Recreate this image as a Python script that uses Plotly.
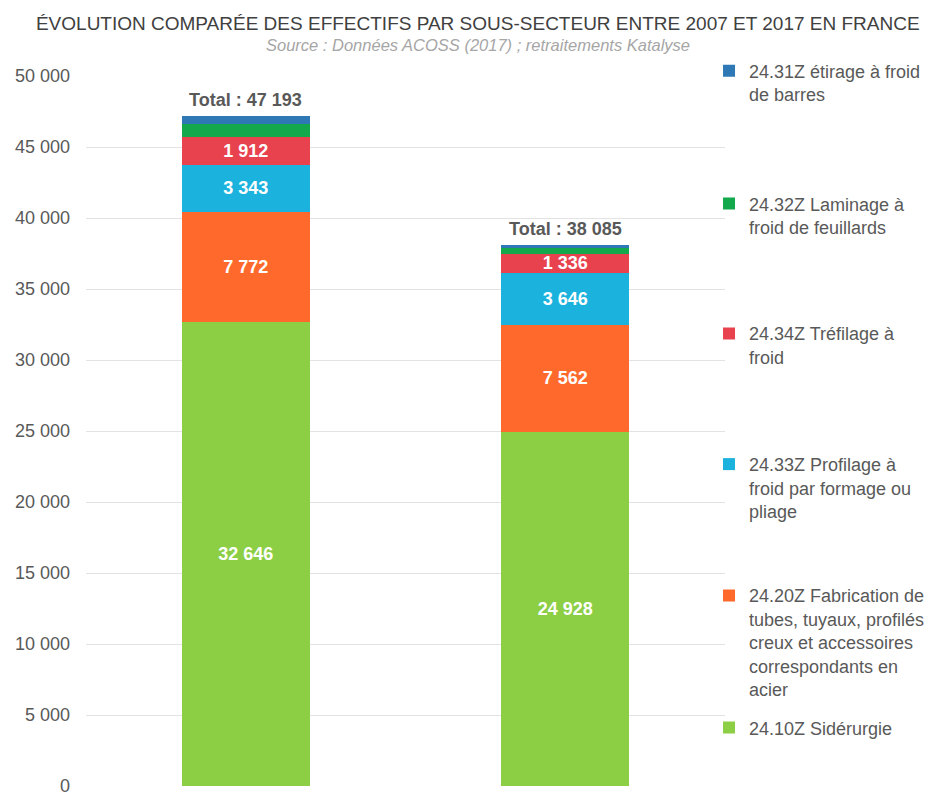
import plotly.graph_objects as go

years = ["2007", "2017"]
series_names = [
    "24.10Z Sidérurgie",
    "24.20Z Fabrication de<br>tubes, tuyaux, profilés<br>creux et accessoires<br>correspondants en<br>acier",
    "24.33Z Profilage à<br>froid par formage ou<br>pliage",
    "24.34Z Tréfilage à<br>froid",
    "24.32Z Laminage à<br>froid de feuillards",
    "24.31Z étirage à froid<br>de barres",
]
siderurgie = [32646, 24928]
tubes = [7772, 7562]
profilage = [3343, 3646]
trefilage = [1912, 1336]
laminage = [940, 443]
etirage = [580, 170]
totals = [47193, 38085]
y_ticks = [0, 5000, 10000, 15000, 20000, 25000, 30000, 35000, 40000, 45000, 50000]

colors = ["#8CCF45", "#FF6A2C", "#1BB2DE", "#E8424F", "#12A84B", "#2E79B5"]
values = [siderurgie, tubes, profilage, trefilage, laminage, etirage]
labelled = [True, True, True, True, False, False]
FONT = "Liberation Sans"

def fmt(n):
    return f"{n:,}".replace(",", " ")

# legend y (paper) for each series, bottom to top
legend_y = [0.108, 0.294, 0.479, 0.663, 0.846, 1.033]

fig = go.Figure()
for i, (name, vals) in enumerate(zip(series_names, values)):
    lg = "legend" if i == 0 else f"legend{i + 1}"
    bar = dict(x=years, y=vals, name=name, marker_color=colors[i], marker_line_width=0,
               hoverinfo="name+y", legend=lg)
    if labelled[i]:
        bar.update(
            text=[fmt(v) for v in vals], texttemplate="<b>%{text}</b>",
            textposition="inside", insidetextanchor="middle", constraintext="none",
            textfont=dict(color="white", size=18, family=FONT),
        )
    fig.add_trace(go.Bar(**bar))

# totals above the bars (category index, since the years look numeric)
for idx, t in enumerate(totals):
    fig.add_annotation(
        x=idx, y=t, yanchor="bottom", yshift=4, showarrow=False,
        text="<b>Total : " + fmt(t) + "</b>",
        font=dict(color="#595959", size=18, family=FONT),
    )

fig.add_annotation(
    x=0.613, y=1.044, xref="paper", yref="paper", xanchor="center", yanchor="middle",
    showarrow=False,
    text="<i>Source : Données ACOSS (2017) ; retraitements Katalyse</i>",
    font=dict(size=16.5, color="#a6a6a6", family=FONT),
)

legends = {}
for i in range(6):
    key = "legend" if i == 0 else f"legend{i + 1}"
    legends[key] = dict(
        x=0.975, y=legend_y[i], xanchor="left", yanchor="top",
        bgcolor="rgba(0,0,0,0)", valign="top", itemwidth=30,
        font=dict(size=18, color="#595959", family=FONT),
        tracegroupgap=0,
    )

fig.update_layout(
    width=934, height=795,
    barmode="stack", bargap=0.6,
    plot_bgcolor="white", paper_bgcolor="white",
    margin=dict(l=78, r=215, t=68, b=17),
    title=dict(
        text="ÉVOLUTION COMPARÉE DES EFFECTIFS PAR SOUS-SECTEUR ENTRE 2007 ET 2017 EN FRANCE",
        x=0.503, xanchor="center", y=0.981, yanchor="middle",
        font=dict(size=19, color="#404040", family=FONT),
    ),
    xaxis=dict(type="category", range=[-0.5, 1.5], showticklabels=False,
               showgrid=False, zeroline=False),
    yaxis=dict(
        range=[0, 50000], tickvals=y_ticks, ticktext=[fmt(t) for t in y_ticks],
        showgrid=True, gridcolor="#e3e3e3", gridwidth=1, zeroline=False,
        tickfont=dict(size=18, color="#595959", family=FONT),
        ticks="", ticklabelstandoff=15, automargin=False,
    ),
    showlegend=True,
    **legends,
)

fig.write_html("out.html")
